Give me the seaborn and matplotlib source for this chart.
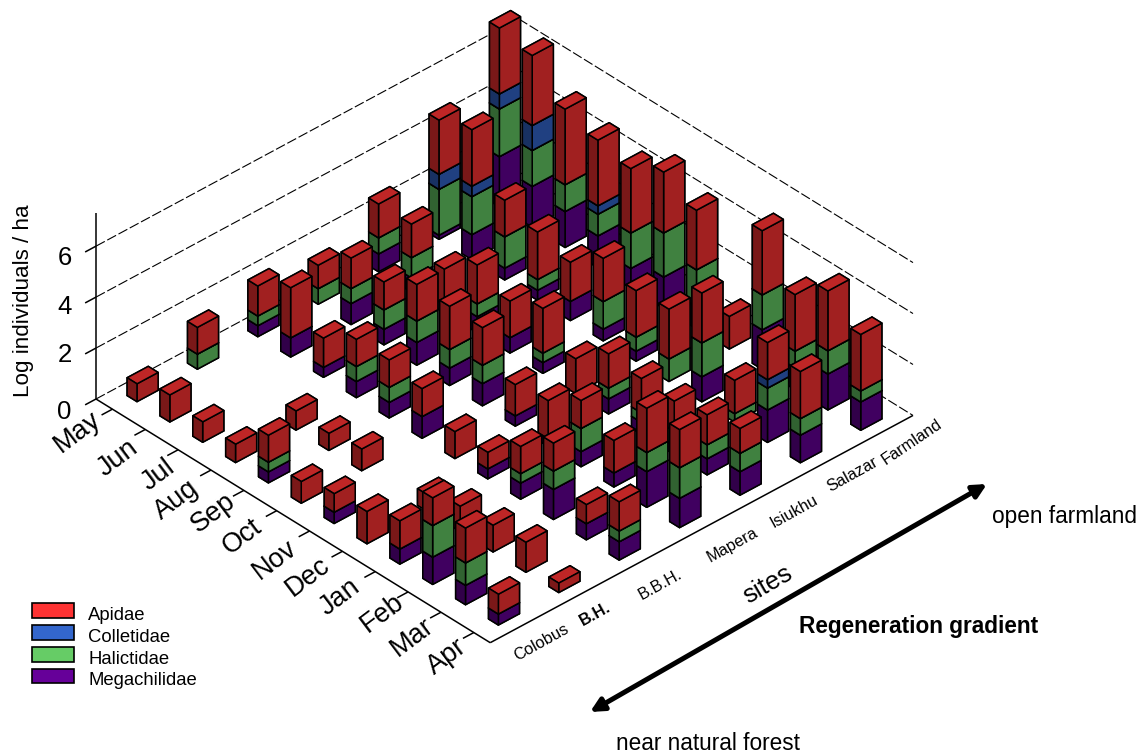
import matplotlib
matplotlib.use("Agg")
import matplotlib.pyplot as plt
import seaborn as sns
from matplotlib.patches import FancyArrowPatch, Patch
from mpl_toolkits.mplot3d import proj3d

months = ["May", "Jun", "Jul", "Aug", "Sep", "Oct", "Nov", "Dec", "Jan", "Feb", "Mar", "Apr"]
sites = ["Colobus", "B.H.", "B.B.H.", "Mapera", "Isiukhu", "Salazar", "Farmland"]
z_ticks = [0, 2, 4, 6]
families = ["Apidae", "Colletidae", "Halictidae", "Megachilidae"]

# one row per site, May to Apr
apidae = [
    [0.70, 1.06, 0.80, 0.72, 1.06, 0.85, 0.73, 1.27, 1.11, 1.09, 1.37, 0.78],
    [1.05, 0, 0, 0.75, 0.67, 0.85, 0, 0.65, 1.00, 1.05, 1.18, 0.37],
    [1.18, 1.97, 1.15, 1.07, 1.08, 1.10, 1.06, 0.65, 1.07, 1.10, 0.75, 1.15],
    [0.92, 1.20, 1.10, 1.44, 1.70, 1.48, 1.23, 1.50, 1.10, 1.28, 1.74, 1.50],
    [1.33, 1.32, 1.40, 1.53, 1.44, 1.76, 1.37, 1.35, 1.35, 1.18, 1.18, 0.98],
    [2.13, 2.22, 1.44, 1.87, 1.54, 1.70, 1.83, 1.96, 1.96, 1.31, 1.46, 1.85],
    [2.59, 2.75, 2.97, 2.58, 2.53, 2.39, 2.34, 1.28, 2.52, 2.22, 2.35, 2.22],
]
colletidae = [
    [0, 0, 0, 0, 0, 0, 0, 0, 0, 0, 0, 0],
    [0, 0, 0, 0, 0, 0, 0, 0, 0, 0, 0, 0],
    [0, 0, 0, 0, 0, 0, 0, 0, 0, 0, 0, 0],
    [0, 0, 0, 0, 0, 0, 0, 0, 0, 0, 0, 0],
    [0, 0, 0, 0, 0, 0, 0, 0, 0, 0, 0, 0],
    [0.59, 0.41, 0, 0, 0, 0, 0, 0, 0, 0, 0.33, 0],
    [0.59, 0.98, 0, 0.33, 0, 0, 0, 0, 0, 0, 0, 0],
]
halictidae = [
    [0, 0, 0, 0, 0.38, 0, 0, 0, 0, 1.24, 0.88, 0],
    [0.59, 0, 0, 0, 0, 0, 0, 0, 0, 0, 0, 0],
    [0.38, 0, 0, 0.59, 0.59, 0, 0, 0, 0.37, 0.72, 0, 0.42],
    [0.61, 0.59, 0.76, 0.84, 0.73, 0.72, 0, 0, 0.91, 0, 0.75, 1.20],
    [0.63, 0.79, 0, 0.50, 0, 0.37, 0, 0.42, 0.37, 0.59, 0.55, 0.72],
    [1.80, 1.49, 1.23, 0.42, 0, 1.08, 0.55, 0.88, 1.33, 0.33, 0.86, 0.65],
    [1.87, 1.41, 1.05, 0.85, 1.39, 1.73, 1.45, 0, 1.37, 0.66, 0.91, 0.43],
]
megachilidae = [
    [0, 0, 0, 0, 0.43, 0, 0.44, 0, 0.59, 1.07, 0.76, 0.43],
    [0, 0, 0, 0, 0, 0, 0, 0, 0, 0, 0, 0],
    [0.43, 0.75, 0.39, 0.63, 0.61, 0.85, 0, 0.39, 0.63, 1.18, 0.63, 0.72],
    [0, 0.82, 0.61, 0.89, 0.68, 0.87, 0.40, 0.30, 0.59, 0.55, 1.40, 1.15],
    [0.70, 0.56, 0.30, 0.63, 0.60, 0.42, 0, 0.59, 0.47, 0.33, 0.63, 0.92],
    [0.16, 0.98, 0.46, 0.39, 0.75, 0.46, 0.39, 0, 0.98, 0, 1.27, 1.08],
    [1.97, 1.60, 1.41, 1.25, 0.77, 1.23, 0.86, 0, 1.55, 0.85, 1.41, 1.11],
]

W, H = 1142, 753
sns.set_style("white")
plt.rcParams["font.family"] = ["Liberation Sans", "DejaVu Sans"]
palette = sns.color_palette(["#FF3333", "#3366CC", "#66CC66", "#660099"])

# label centres in pixels, the original places these by hand
month_label_px = [(77, 432), (118, 458), (158, 475), (176, 500), (213, 513), (242, 537),
                  (275, 560), (308, 577), (340, 597), (382, 613), (412, 637), (447, 657)]
site_label_px = [(541, 642), (595, 614), (660, 585), (732, 545), (794, 511), (852, 475), (912, 442)]
site_label_rot = [29, 29, 29, 29, 29, 29, 34]
z_label_px = [(64, 412), (65, 355), (65, 307), (65, 258)]


def px_text(fig, x, y, s, **kw):
    kw.setdefault("ha", "center")
    kw.setdefault("va", "center")
    kw.setdefault("color", "black")
    fig.text(x / W, 1 - y / H, s, **kw)


def corner_px(ax, x, y, z):
    xp, yp, _ = proj3d.proj_transform(x, y, z, ax.get_proj())
    return ax.transData.transform((xp, yp))


def fit_axes(ax):
    """Size the square 3D axes so the floor corners land where the reference has them."""
    left = (-0.5, -0.5, 0)
    right = (11.5, 6.5, 0)
    target_left = (96, H - 399)
    target_right = (913, H - 416.5)
    side, cx, cy = 1500.0, W / 2, H / 2
    for _ in range(4):
        ax.set_position([(cx - side / 2) / W, (cy - side / 2) / H, side / W, side / H])
        ax.apply_aspect()
        p0 = corner_px(ax, *left)
        p1 = corner_px(ax, *right)
        scale = (target_right[0] - target_left[0]) / (p1[0] - p0[0])
        side *= scale
        cx += target_left[0] - (cx + (p0[0] - cx) * scale)
        cy += target_left[1] - (cy + (p0[1] - cy) * scale)
    ax.set_position([(cx - side / 2) / W, (cy - side / 2) / H, side / W, side / H])
    ax.apply_aspect()


def draw_frame(ax):
    x0, x1 = -0.5, 11.5
    y0, y1 = -0.5, 6.5
    dash = {"color": "black", "lw": 0.8, "linestyle": (0, (9, 2.5)), "zorder": 1}
    solid = {"color": "black", "lw": 1.1, "zorder": 2, "solid_capstyle": "butt"}
    for z in z_ticks:
        ax.plot([x0, x0], [y0, y1], [z, z], **dash)
        ax.plot([x0, x1], [y1, y1], [z, z], **dash)
        ax.plot([x0, x0], [y0, y0 - 0.18], [z, z], **solid)
    ax.plot([x0, x1], [y0, y0], [0, 0], **solid)
    ax.plot([x1, x1], [y0, y1], [0, 0], **solid)
    ax.plot([x0, x0], [y0, y0], [0, 7.3], **solid)
    for m in range(len(months)):
        ax.plot([m, m], [y0, y0 - 0.18], [0, 0], **solid)


def draw_bars(ax):
    layers = [(megachilidae, palette[3]), (halictidae, palette[2]),
              (colletidae, palette[1]), (apidae, palette[0])]
    order = 10
    # back to front: mplot3d can't sort stacked boxes reliably by itself
    for s in range(len(sites) - 1, -1, -1):
        for m in range(len(months)):
            base = 0.0
            for values, col in layers:
                h = values[s][m]
                if h <= 0:
                    continue
                top = tuple(c * 0.75 for c in col)
                face_r = tuple(c * 0.63 for c in col)
                face_l = tuple(c * 0.48 for c in col)
                # faces: -z, +z, -y, +y, -x, +x
                colors = [face_l, top, face_l, face_l, face_l, face_r]
                ax.bar3d(m - 0.15, s - 0.175, base, 0.3, 0.35, h, color=colors, shade=False,
                         edgecolor="black", linewidth=1.1, zorder=order)
                base += h
                order += 1


def main():
    fig = plt.figure(figsize=(W / 100, H / 100), dpi=100)
    ax = fig.add_axes([0, 0, 1, 1], projection="3d")
    ax.set_proj_type("ortho")
    ax.computed_zorder = False
    ax.view_init(elev=35.2, azim=-43)
    ax.set_xlim(-0.5, 11.5, view_margin=0)
    ax.set_ylim(-0.5, 6.5, view_margin=0)
    ax.set_zlim(0, 7.25, view_margin=0)
    # small zoom makes the axes box bigger than the drawing, so nothing gets clipped
    ax.set_box_aspect((578, 578, 226), zoom=0.6)
    ax.set_axis_off()
    fit_axes(ax)

    draw_frame(ax)
    draw_bars(ax)

    for (x, y), s in zip(month_label_px, months):
        px_text(fig, x, y, s, fontsize=19.5, rotation=37, rotation_mode="anchor")
    for (x, y), s, rot in zip(site_label_px, sites, site_label_rot):
        weight = "bold" if s == "B.H." else "normal"
        px_text(fig, x, y, s, fontsize=11.8, rotation=rot, rotation_mode="anchor", fontweight=weight)
    for (x, y), z in zip(z_label_px, z_ticks):
        px_text(fig, x, y, str(z), fontsize=18.5)

    px_text(fig, 24, 301, "Log individuals / ha", fontsize=16.1, rotation=90)
    px_text(fig, 768, 585, "sites", fontsize=18.5, rotation=30, rotation_mode="anchor")
    px_text(fig, 919, 626, "Regeneration gradient", fontsize=16.3, fontweight="bold")
    px_text(fig, 1065, 517, "open farmland", fontsize=16.3)
    px_text(fig, 708, 743, "near natural forest", fontsize=16.3)

    arrow = FancyArrowPatch((590 / W, 1 - 712 / H), (987 / W, 1 - 484 / H), transform=fig.transFigure,
                            arrowstyle="<|-|>", mutation_scale=20, lw=3.6, color="black",
                            shrinkA=0, shrinkB=0)
    fig.add_artist(arrow)

    handles = [Patch(facecolor=c, edgecolor="black", linewidth=1.2) for c in palette]
    fs_px = 13.3 * 100 / 72
    leg = fig.legend(handles, families, loc="upper left", bbox_to_anchor=(32 / W, 1 - 603 / H),
                     frameon=False, fontsize=13.3, labelcolor="black", borderpad=0, borderaxespad=0,
                     handlelength=42 / fs_px, handleheight=16 / fs_px, handletextpad=14 / fs_px,
                     labelspacing=0.216)
    # labels sit a little lower than their swatches in the reference
    for t in leg.get_texts():
        t.set_y(-3)

    fig.savefig("out.png", dpi=100)


if __name__ == "__main__":
    main()
